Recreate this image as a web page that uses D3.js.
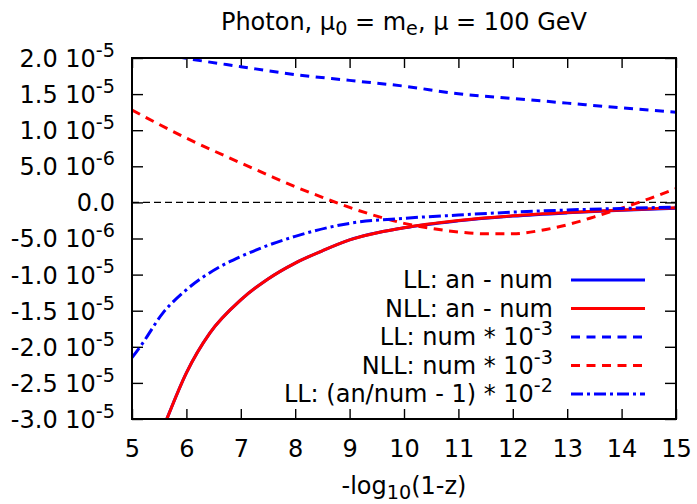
<!DOCTYPE html>
<html>
<head>
<meta charset="utf-8">
<script src="https://cdn.jsdelivr.net/npm/d3@7"></script>
<style>
  body { margin: 0; background: #fff; }
  text { font-family: "DejaVu Sans", sans-serif; fill: #000; }
</style>
</head>
<body>
<svg id="chart" width="697" height="504"></svg>
<script>
// ---- data -------------------------------------------------------------
const xTicks = [5, 6, 7, 8, 9, 10, 11, 12, 13, 14, 15];
const yTicks = [2e-5, 1.5e-5, 1e-5, 5e-6, 0, -5e-6, -1e-5, -1.5e-5, -2e-5, -2.5e-5, -3e-5];

// analytic minus numeric, LL and NLL
const xAn = [5.5, 5.64, 6, 6.43, 7, 7.5, 8, 8.5, 9, 10, 11, 12, 13, 14, 15];
const llAnMinusNum  = [-3.27e-5, -3.0e-5, -2.36e-5, -1.81e-5, -1.35e-5, -1.06e-5, -0.84e-5, -0.67e-5,
                       -0.52e-5, -0.352e-5, -0.255e-5, -0.19e-5, -0.145e-5, -0.11e-5, -0.08e-5];
const nllAnMinusNum = [-3.27e-5, -3.0e-5, -2.36e-5, -1.81e-5, -1.35e-5, -1.06e-5, -0.84e-5, -0.67e-5,
                       -0.52e-5, -0.35e-5, -0.25e-5, -0.185e-5, -0.14e-5, -0.105e-5, -0.075e-5];

// numeric results scaled by 10^-3
const xNum = [5, 6, 7, 8, 9, 10, 11, 12, 13, 14, 15];
const llNum = [2.14e-5, 1.995e-5, 1.88e-5, 1.77e-5, 1.69e-5, 1.61e-5, 1.505e-5, 1.44e-5, 1.375e-5, 1.31e-5, 1.25e-5];
const xNllNum = [5, 5.5, 6, 6.5, 7, 7.5, 8, 8.5, 9, 9.5, 10, 10.5, 11, 11.5, 12, 12.5, 13, 13.5, 14, 14.5, 15];
const nllNum = [1.28e-5, 1.08e-5, 0.89e-5, 0.715e-5, 0.546e-5, 0.38e-5, 0.218e-5, 0.07e-5, -0.07e-5,
                -0.19e-5, -0.29e-5, -0.36e-5, -0.41e-5, -0.435e-5, -0.435e-5, -0.39e-5, -0.31e-5,
                -0.20e-5, -0.08e-5, 0.05e-5, 0.19e-5];

// LL relative difference scaled by 10^-2
const xRatio = [5, 5.15, 5.57, 6, 6.62, 7, 7.5, 8, 9, 10, 11, 12, 13, 14, 15];
const llRatio = [-2.15e-5, -2.0e-5, -1.53e-5, -1.21e-5, -0.89e-5, -0.75e-5, -0.595e-5, -0.47e-5,
                 -0.29e-5, -0.22e-5, -0.175e-5, -0.135e-5, -0.105e-5, -0.083e-5, -0.065e-5];

const legendLabels = [
  ["LL: an - num", null],
  ["NLL: an - num", null],
  ["LL: num * 10", "-3"],
  ["NLL: num * 10", "-3"],
  ["LL: (an/num - 1) * 10", "-2"]
];

// ---- layout -----------------------------------------------------------
const W = 697, H = 504;
const plot = { left: 132, right: 676, top: 58, bottom: 419 };
const FS = 24;

const svg = d3.select("#chart");
const x = d3.scaleLinear().domain([5, 15]).range([plot.left, plot.right]);
const y = d3.scaleLinear().domain([-3e-5, 2e-5]).range([plot.bottom, plot.top]);

// clip region for curves
svg.append("defs").append("clipPath").attr("id", "plotClip")
  .append("rect")
  .attr("x", plot.left).attr("y", plot.top)
  .attr("width", plot.right - plot.left).attr("height", plot.bottom - plot.top);

// add superscript / subscript pieces to a text node
function addScript(sel, str, shift) {
  sel.append("tspan").attr("dy", shift).attr("font-size", FS * 0.8).text(str);
}

// ---- axes -------------------------------------------------------------
function styleAxis(g) {
  g.select(".domain").remove();
  g.selectAll(".tick line").attr("stroke", "#000").attr("stroke-width", 1.4);
  g.attr("font-family", null).attr("font-size", null);
}

const yAxis = d3.axisLeft(y).tickValues(yTicks).tickSize(-11).tickPadding(17).tickFormat("");
const gy = svg.append("g").attr("transform", `translate(${plot.left},0)`).call(yAxis).call(styleAxis);
gy.selectAll(".tick text").each(function (d) {
  const t = d3.select(this).attr("font-size", FS).attr("text-anchor", "end").attr("dy", "0.35em");
  if (d === 0) { t.text("0.0"); return; }
  const [m, e] = d.toExponential(1).split("e");
  t.text(m + " 10");
  addScript(t, e.replace("+", ""), -0.42 * FS);
});

const yAxisR = d3.axisRight(y).tickValues(yTicks).tickSize(-11).tickFormat("");
svg.append("g").attr("transform", `translate(${plot.right},0)`).call(yAxisR).call(styleAxis)
  .selectAll(".tick text").remove();

const xAxis = d3.axisBottom(x).tickValues(xTicks).tickSize(-10).tickPadding(21).tickFormat(d3.format("d"));
const gx = svg.append("g").attr("transform", `translate(0,${plot.bottom})`).call(xAxis).call(styleAxis);
gx.selectAll(".tick text").attr("font-size", FS);

const xAxisT = d3.axisTop(x).tickValues(xTicks).tickSize(-10).tickFormat("");
svg.append("g").attr("transform", `translate(0,${plot.top})`).call(xAxisT).call(styleAxis)
  .selectAll(".tick text").remove();

// ---- curves -----------------------------------------------------------
const plotG = svg.append("g").attr("clip-path", "url(#plotClip)");

// zero reference line
plotG.append("line")
  .attr("x1", x(5)).attr("x2", x(15)).attr("y1", y(0)).attr("y2", y(0))
  .attr("stroke", "#000").attr("stroke-width", 1.2).attr("stroke-dasharray", "7,4");

const line = d3.line().curve(d3.curveMonotoneX).x(d => x(d[0])).y(d => y(d[1]));
const zip = (xs, ys) => xs.map((v, i) => [v, ys[i]]);

const series = [
  { data: zip(xAn, llAnMinusNum),  color: "#0000ff", dash: null },
  { data: zip(xAn, nllAnMinusNum), color: "#ff0000", dash: null },
  { data: zip(xNum, llNum),        color: "#0000ff", dash: "9,6.5" },
  { data: zip(xNllNum, nllNum),    color: "#ff0000", dash: "9,6.5" },
  { data: zip(xRatio, llRatio),    color: "#0000ff", dash: "12,4,3,4" }
];

series.forEach(s => {
  plotG.append("path")
    .attr("d", line(s.data))
    .attr("fill", "none")
    .attr("stroke", s.color)
    .attr("stroke-width", 3)
    .attr("stroke-dasharray", s.dash);
});

// ---- border -----------------------------------------------------------
svg.append("rect")
  .attr("x", plot.left).attr("y", plot.top)
  .attr("width", plot.right - plot.left).attr("height", plot.bottom - plot.top)
  .attr("fill", "none").attr("stroke", "#000").attr("stroke-width", 2);

// ---- legend -----------------------------------------------------------
const legRows = [280, 308.5, 337, 365.5, 394];
series.forEach((s, i) => {
  const ry = legRows[i];
  const t = svg.append("text").attr("x", 553).attr("y", ry).attr("dy", "0.35em")
    .attr("font-size", FS).attr("text-anchor", "end").text(legendLabels[i][0]);
  if (legendLabels[i][1]) addScript(t, legendLabels[i][1], -0.42 * FS);
  svg.append("line")
    .attr("x1", 571).attr("x2", 645).attr("y1", ry).attr("y2", ry)
    .attr("stroke", s.color).attr("stroke-width", 3).attr("stroke-dasharray", s.dash);
});

// ---- titles -----------------------------------------------------------
const title = svg.append("text").attr("x", (plot.left + plot.right) / 2).attr("y", 30)
  .attr("font-size", FS).attr("text-anchor", "middle");
title.append("tspan").text("Photon, μ");
title.append("tspan").attr("dy", 0.22 * FS).attr("font-size", FS * 0.8).text("0");
title.append("tspan").attr("dy", -0.22 * FS).text(" = m");
title.append("tspan").attr("dy", 0.22 * FS).attr("font-size", FS * 0.8).text("e");
title.append("tspan").attr("dy", -0.22 * FS).text(", μ = 100 GeV");

const xLabel = svg.append("text").attr("x", (plot.left + plot.right) / 2).attr("y", 494)
  .attr("font-size", FS).attr("text-anchor", "middle");
xLabel.append("tspan").text("-log");
xLabel.append("tspan").attr("dy", 0.22 * FS).attr("font-size", FS * 0.8).text("10");
xLabel.append("tspan").attr("dy", -0.22 * FS).text("(1-z)");
</script>
</body>
</html>
